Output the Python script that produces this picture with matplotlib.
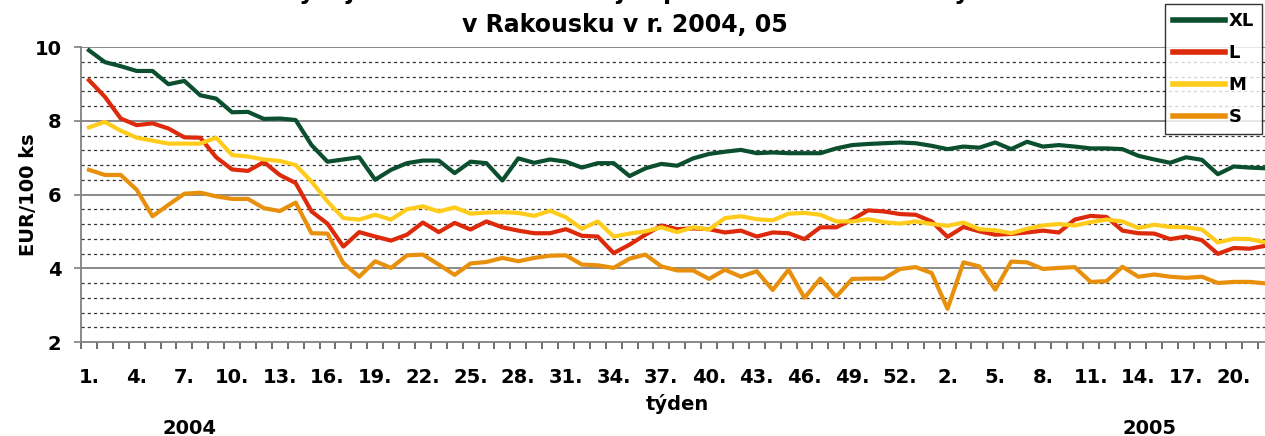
import matplotlib
matplotlib.use('agg')
import matplotlib.pyplot as plt
import numpy as np

# weeks 2004 (1..53) followed by 2005 (1..22)
WEEKS = list(range(1, 54)) + list(range(1, 23))

XL = [9.91, 9.59, 9.48, 9.35, 9.35, 8.99, 9.08, 8.69, 8.60, 8.23,
      8.24, 8.05, 8.06, 8.02, 7.34, 6.89, 6.95, 7.01, 6.40, 6.67,
      6.85, 6.92, 6.92, 6.58, 6.89, 6.85, 6.38, 6.98, 6.86, 6.95,
      6.89, 6.73, 6.85, 6.85, 6.50, 6.71, 6.83, 6.78, 6.98, 7.10,
      7.16, 7.21, 7.12, 7.14, 7.12, 7.12, 7.12, 7.25, 7.34, 7.37,
      7.39, 7.41, 7.39, 7.32, 7.23, 7.30, 7.27, 7.41, 7.23, 7.43,
      7.30, 7.34, 7.30, 7.25, 7.25, 7.23, 7.05, 6.95, 6.86, 7.01,
      6.94, 6.55, 6.76, 6.73, 6.71]

L = [9.10, 8.65, 8.06, 7.88, 7.93, 7.79, 7.55, 7.54, 7.01, 6.68,
     6.64, 6.88, 6.53, 6.31, 5.54, 5.21, 4.59, 4.98, 4.86, 4.75,
     4.91, 5.24, 4.98, 5.23, 5.05, 5.27, 5.11, 5.02, 4.95, 4.95,
     5.06, 4.88, 4.86, 4.41, 4.64, 4.91, 5.16, 5.06, 5.08, 5.06,
     4.97, 5.02, 4.86, 4.97, 4.95, 4.79, 5.11, 5.11, 5.32, 5.57,
     5.54, 5.47, 5.45, 5.27, 4.85, 5.12, 5.00, 4.91, 4.93, 4.97,
     5.02, 4.97, 5.32, 5.42, 5.39, 5.02, 4.95, 4.94, 4.79, 4.86,
     4.76, 4.39, 4.55, 4.53, 4.61]

M = [7.82, 7.97, 7.73, 7.54, 7.46, 7.38, 7.38, 7.38, 7.54, 7.07,
     7.03, 6.95, 6.91, 6.80, 6.35, 5.81, 5.36, 5.32, 5.45, 5.32,
     5.60, 5.68, 5.54, 5.65, 5.48, 5.51, 5.52, 5.50, 5.42, 5.56,
     5.38, 5.07, 5.27, 4.86, 4.94, 5.00, 5.11, 4.98, 5.11, 5.05,
     5.36, 5.41, 5.33, 5.30, 5.48, 5.50, 5.45, 5.27, 5.27, 5.33,
     5.25, 5.21, 5.27, 5.20, 5.15, 5.24, 5.06, 5.03, 4.95, 5.07,
     5.16, 5.20, 5.16, 5.25, 5.32, 5.27, 5.09, 5.18, 5.12, 5.11,
     5.05, 4.70, 4.80, 4.79, 4.70]

S = [6.67, 6.53, 6.53, 6.13, 5.41, 5.72, 6.02, 6.05, 5.95, 5.88,
     5.88, 5.63, 5.55, 5.78, 4.95, 4.94, 4.14, 3.77, 4.19, 4.01,
     4.35, 4.37, 4.10, 3.82, 4.13, 4.17, 4.28, 4.19, 4.28, 4.34,
     4.35, 4.10, 4.08, 4.01, 4.26, 4.37, 4.05, 3.94, 3.94, 3.71,
     3.96, 3.77, 3.92, 3.41, 3.96, 3.20, 3.72, 3.23, 3.71, 3.72,
     3.72, 3.98, 4.03, 3.87, 2.90, 4.16, 4.05, 3.42, 4.18, 4.16,
     3.98, 4.01, 4.03, 3.63, 3.65, 4.04, 3.77, 3.83, 3.77, 3.74,
     3.77, 3.60, 3.63, 3.63, 3.59]

SERIES = [('XL', XL, '#0b4f2f'), ('L', L, '#dc2a0a'),
          ('M', M, '#ffcc1c'), ('S', S, '#e8900c')]

W, H = 1265, 436
fig = plt.figure(figsize=(W / 100, H / 100), dpi=100, facecolor='white')
plt.rcParams['font.family'] = ['DejaVu Sans']

n = len(WEEKS)
week_px = 15.9
ax = fig.add_axes([81 / W, 1 - 342 / H, n * week_px / W, 295 / H])
x = np.arange(n)

# grid: solid majors, dashed minors every 0.4
for v in np.arange(2.4, 10, 0.4):
    if abs(v / 2 - round(v / 2)) < 1e-6:
        continue
    ax.axhline(v, color='#333333', lw=0.9, ls=(0, (2.5, 2.5)), zorder=1)
for v in [4, 6, 8, 10]:
    ax.axhline(v, color='#808080', lw=1.3, zorder=1)

for name, vals, col in SERIES:
    ax.plot(x, vals, color=col, lw=3.0, label=name, zorder=3,
            solid_joinstyle='round')

ax.set_xlim(-0.5, n - 0.5)
ax.set_ylim(2, 10)

for s in ['top', 'right']:
    ax.spines[s].set_visible(False)
for s in ['left', 'bottom']:
    ax.spines[s].set_color('#808080')
    ax.spines[s].set_linewidth(1.3)

ax.set_yticks([2, 4, 6, 8, 10])
ax.set_yticklabels(['2', '4', '6', '8', '10'], fontsize=14, fontweight='bold')
ax.tick_params(axis='y', length=5, width=1.2, color='#808080', pad=9)

lab_pos = list(range(0, n, 3))
ax.set_xticks(lab_pos)
ax.set_xticklabels(['%d.' % WEEKS[i] for i in lab_pos], fontsize=14,
                   fontweight='bold')
ax.set_xticks(np.arange(-0.5, n, 1), minor=True)
ax.tick_params(axis='x', which='major', length=0, pad=19)
ax.tick_params(axis='x', which='minor', length=5, width=1.2, color='#555555')

fig.text(28 / W, 1 - 195 / H, 'EUR/100 ks', rotation=90, ha='center',
         va='center', fontsize=14, fontweight='bold')
fig.text(677 / W, 1 - 404 / H, 'týden', ha='center', va='center',
         fontsize=14, fontweight='bold')
fig.text(190 / W, 1 - 428 / H, '2004', ha='center', va='center',
         fontsize=14, fontweight='bold')
fig.text(1150 / W, 1 - 428 / H, '2005', ha='center', va='center',
         fontsize=14, fontweight='bold')

# title; in the source the first line sits above the top edge,
# only its descenders show
fig.text(625 / W, 1 + 0.5 / H, 'Vývoj cen konzumních vajec podle hmotnostní třídy',
         ha='center', va='baseline', fontsize=17, fontweight='bold')
fig.text(625 / W, 1 - 32 / H, 'v Rakousku v r. 2004, 05', ha='center',
         va='baseline', fontsize=17, fontweight='bold')

leg = ax.legend(loc='upper right', bbox_to_anchor=(1262 / W, 1 - 4 / H),
                bbox_transform=fig.transFigure, frameon=True, fancybox=False,
                prop={'size': 13, 'weight': 'bold'}, handlelength=2.9,
                handletextpad=0.2, labelspacing=0.78, borderpad=0.45,
                borderaxespad=0)
leg.get_frame().set_edgecolor('black')
leg.get_frame().set_linewidth(1.0)
for h in leg.get_lines():
    h.set_linewidth(4)

fig.savefig('out.png', dpi=100, facecolor='white')
